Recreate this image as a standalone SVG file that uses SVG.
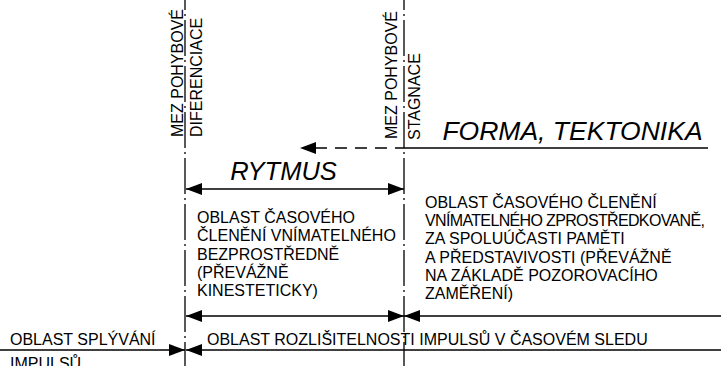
<svg xmlns="http://www.w3.org/2000/svg" width="721" height="366" viewBox="0 0 721 366">
<style>
text { font-family: "Liberation Sans", Arial, sans-serif; fill: #000; }
.t { font-size: 16px; }
.big { font-size: 26.5px; font-style: italic; }
.ln { stroke: #000; stroke-width: 1.3; fill: none; }
.dd { stroke: #000; stroke-width: 1.3; fill: none; stroke-dasharray: 36 4 2 4; stroke-dashoffset: 26; }
.dash { stroke: #000; stroke-width: 1.3; fill: none; stroke-dasharray: 12 8; }
.arr { marker-end: url(#ah); }
.arr2 { marker-start: url(#ah); marker-end: url(#ah); }
.arrs { marker-start: url(#ah); }
</style>
<defs>
<marker id="ah" markerUnits="userSpaceOnUse" markerWidth="16" markerHeight="12" viewBox="0 0 16 12" refX="16" refY="6" orient="auto-start-reverse">
<path d="M0,0 L16,6 L0,12 z" fill="#000"/>
</marker>
</defs>

<g id="connectors">
<line class="dd" x1="185" y1="0" x2="185" y2="366"/>
<line class="dd" x1="404" y1="0" x2="404" y2="366"/>
<line class="dash" x1="315" y1="148" x2="404" y2="148"/>
<path d="M300,148 L316,142 L316,154 z" fill="#000"/>
<line class="ln" x1="404" y1="148" x2="708" y2="148"/>
<line class="ln arr2" x1="186" y1="189" x2="404" y2="189"/>
<line class="ln arr2" x1="186" y1="316" x2="404" y2="316"/>
<line class="ln arrs" x1="404" y1="316" x2="721" y2="316"/>
<line class="ln arr" x1="0" y1="350" x2="185" y2="350"/>
<line class="ln arrs" x1="186" y1="350" x2="721" y2="350"/>
</g>

<g id="mez-diferenciace">
<text class="t" transform="translate(183,137) rotate(-90)">MEZ POHYBOVÉ</text>
<text class="t" transform="translate(202,137) rotate(-90)">DIFERENCIACE</text>
</g>

<g id="mez-stagnace">
<text class="t" transform="translate(397,139) rotate(-90)">MEZ POHYBOVÉ</text>
<text class="t" transform="translate(420,140) rotate(-90)">STAGNACE</text>
</g>

<g id="forma">
<text class="big" x="572.5" y="140" text-anchor="middle">FORMA, TEKTONIKA</text>
</g>

<g id="rytmus">
<text class="big" x="283.5" y="179.5" text-anchor="middle" style="font-size:25.5px">RYTMUS</text>
</g>

<g id="oblast-bezprostredne">
<text class="t" x="197" y="223">
<tspan x="197">OBLAST ČASOVÉHO</tspan>
<tspan x="197" dy="18.3">ČLENĚNÍ VNÍMATELNÉHO</tspan>
<tspan x="197" dy="18.3">BEZPROSTŘEDNĚ</tspan>
<tspan x="197" dy="18.3">(PŘEVÁŽNĚ</tspan>
<tspan x="197" dy="18.3">KINESTETICKY)</tspan>
</text>
</g>

<g id="oblast-zprostredkovane">
<text class="t" x="425" y="207.7">OBLAST ČASOVÉHO ČLENĚNÍ</text>
<text class="t" x="425" y="226" style="letter-spacing:-0.65px">VNÍMATELNÉHO ZPROSTŘEDKOVANĚ,</text>
<text class="t" x="425" y="244.3">ZA SPOLUÚČASTI PAMĚTI</text>
<text class="t" x="425" y="262.6">A PŘEDSTAVIVOSTI (PŘEVÁŽNĚ</text>
<text class="t" x="425" y="280.9">NA ZÁKLADĚ POZOROVACÍHO</text>
<text class="t" x="425" y="299.2">ZAMĚŘENÍ)</text>
</g>

<g id="oblast-splyvani">
<text class="t" x="10" y="345">OBLAST SPLÝVÁNÍ</text>
<text class="t" x="10" y="369">IMPULSŮ</text>
</g>

<g id="oblast-rozlisitelnosti">
<text class="t" x="207" y="345">OBLAST ROZLIŠITELNOSTI IMPULSŮ V ČASOVÉM SLEDU</text>
</g>
</svg>
